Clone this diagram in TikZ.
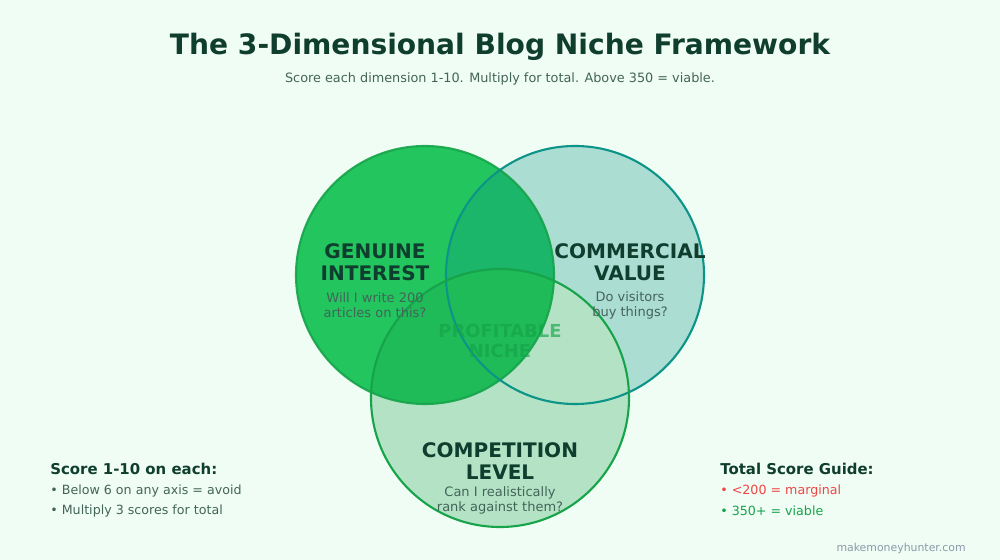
\documentclass[tikz,border=0pt]{standalone}
\usepackage{fontspec}
\setmainfont{DejaVu Sans}
\definecolor{bgmint}{HTML}{F0FDF4}
\definecolor{darkgreen}{HTML}{0F3D2E}
\definecolor{subgrey}{HTML}{44645A}
\definecolor{brightgreen}{HTML}{22C55E}
\definecolor{midgreen}{HTML}{16A34A}
\definecolor{teal}{HTML}{0D9488}
\definecolor{warnred}{HTML}{EF4444}
\definecolor{footgrey}{HTML}{8A9AAA}
\tikzset{
  ring/.style={circle,minimum size=5.16cm,line width=1.2pt},
  head/.style={font=\fontsize{11.4}{12.2}\selectfont\bfseries,text=darkgreen,align=center},
  sub/.style={font=\fontsize{7.4}{8.6}\selectfont,text=subgrey,align=center},
  legend/.style={font=\fontsize{7.2}{11.3}\selectfont,anchor=west,align=left,inner sep=0pt}
}
\begin{document}
\begin{tikzpicture}[x=0.02cm,y=-0.02cm]
\fill[bgmint] (0,0) rectangle (1000,560);
\useasboundingbox (0,0) rectangle (1000,560);
% title
\node[font=\fontsize{16}{18}\selectfont\bfseries,text=darkgreen] (title) at (500,47) {The 3-Dimensional Blog Niche Framework};
\node[font=\fontsize{7.3}{8}\selectfont,text=subgrey] (subtitle) at (500,79) {Score each dimension 1-10. Multiply for total. Above 350 = viable.};
% circles
\node[ring,fill=brightgreen] (interest) at (425,275) {};
\node[ring,fill=teal,fill opacity=0.3] (commercial) at (575,275) {};
\begin{scope}
  \clip (500,398) circle (129);
  \fill[bgmint] (371,269) rectangle (629,527);
  \fill[brightgreen] (425,275) circle (129);
\end{scope}
\node[ring,fill=midgreen,fill opacity=0.28] (competition) at (500,398) {};
\draw[midgreen,line width=1.2pt,draw opacity=0.9] (interest.center) circle (129);
\draw[teal,line width=1.2pt] (commercial.center) circle (129);
\draw[midgreen,line width=1.2pt] (competition.center) circle (129);
% labels
\node[head] (interestL) at (375,262) {GENUINE\\INTEREST};
\node[sub] (interestQ) at (375,305) {Will I write 200\\articles on this?};
\node[head] (commercialL) at (630,262) {COMMERCIAL\\VALUE};
\node[sub] (commercialQ) at (630,305) {Do visitors\\buy things?};
\node[head] (competitionL) at (500,461) {COMPETITION\\LEVEL};
\node[sub] (competitionQ) at (500,500) {Can I realistically\\rank against them?};
\node[head,font=\fontsize{10.2}{11.8}\selectfont\bfseries,text=midgreen,text opacity=0.65] (niche) at (500,341) {PROFITABLE\\NICHE};
% legends
\node[legend,font=\fontsize{8.5}{10}\selectfont\bfseries,text=darkgreen] (scoreH) at (50,469) {Score 1-10 on each:};
\node[legend,text=subgrey] (scoreT) at (50,501) {• Below 6 on any axis = avoid\\• Multiply 3 scores for total};
\node[legend,font=\fontsize{8.5}{10}\selectfont\bfseries,text=darkgreen] (guideH) at (720,469) {Total Score Guide:};
\node[legend,text=warnred] (guideA) at (720,491) {• <200 = marginal};
\node[legend,text=midgreen] (guideB) at (720,511) {• 350+ = viable};
\node[font=\fontsize{6.2}{7}\selectfont,text=footgrey,anchor=east,inner sep=0pt] (footer) at (966,548) {makemoneyhunter.com};
\end{tikzpicture}
\end{document}
